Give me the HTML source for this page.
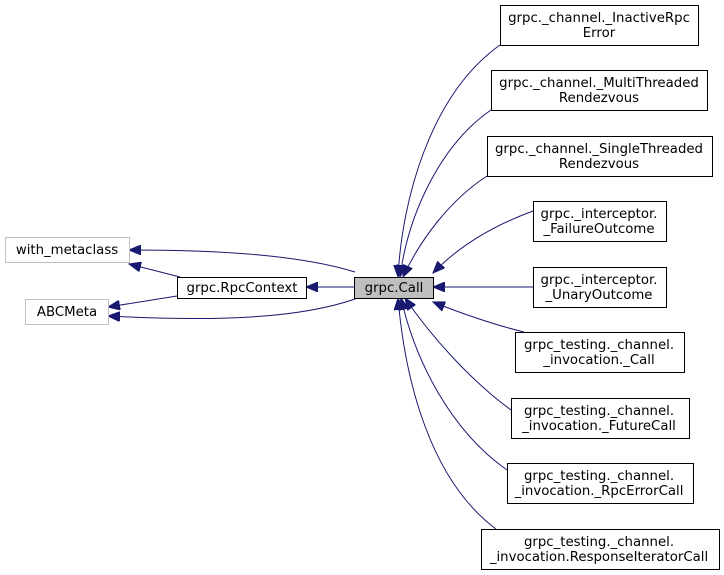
<!DOCTYPE html>
<html><head><meta charset="utf-8"><style>
body{margin:0;background:#fff}
svg{display:block}
text{font-family:"DejaVu Sans","Liberation Sans",sans-serif;font-size:13.3px;text-anchor:middle;fill:#000}
</style></head><body>
<svg width="724" height="575" viewBox="0 0 724 575" xmlns="http://www.w3.org/2000/svg">
<defs>
<marker id="a" markerUnits="userSpaceOnUse" markerWidth="13" markerHeight="10" refX="12" refY="5" orient="auto">
<path d="M0,0 L12,5 L0,10 z" fill="#191970" stroke="#191970"/>
</marker>
</defs>
<g fill="none" stroke="#191970" stroke-width="1" marker-end="url(#a)">
<path d="M500,45 C430,95 402,200 398,277"/>
<path d="M491,110 C440,145 408,215 400,277"/>
<path d="M487,176 C450,200 420,240 403,277"/>
<path d="M533,211 C495,225 460,245 433,273"/>
<path d="M533,287 L433,287"/>
<path d="M524,332 C495,325 460,313 433,302"/>
<path d="M511,410 C470,380 430,335 405,298"/>
<path d="M507,470 C450,430 415,360 401,298"/>
<path d="M496,529 C430,480 405,380 398,298"/>
<path d="M354,287 L306,287"/>
<path d="M355,272 C300,255 220,250 129,250"/>
<path d="M180,277 L129,264"/>
<path d="M177,296 L108,307"/>
<path d="M355,299 C300,318 220,322 108,316"/>
</g>
<g stroke-width="1">
<rect x="5.5" y="237.5" width="124" height="25" fill="#fff" stroke="#bfbfbf"/>
<text x="67" y="254">with_metaclass</text>
<rect x="25.5" y="299.5" width="83" height="25" fill="#fff" stroke="#bfbfbf"/>
<text x="67" y="316">ABCMeta</text>
<rect x="177.5" y="277.5" width="129" height="21" fill="#fff" stroke="#000"/>
<text x="242" y="292">grpc.RpcContext</text>
<rect x="354.5" y="277.5" width="79" height="21" fill="#bfbfbf" stroke="#000"/>
<text x="394" y="292">grpc.Call</text>
<g fill="#fff" stroke="#000">
<rect x="500.5" y="5.5" width="198" height="40"/>
<rect x="491.5" y="70.5" width="216" height="40"/>
<rect x="487.5" y="136.5" width="225" height="40"/>
<rect x="533.5" y="201.5" width="133" height="40"/>
<rect x="533.5" y="267.5" width="133" height="40"/>
<rect x="515.5" y="332.5" width="169" height="40"/>
<rect x="511.5" y="398.5" width="178" height="40"/>
<rect x="507.5" y="463.5" width="186" height="40"/>
<rect x="481.5" y="529.5" width="238" height="40"/>
</g>
<text x="599" y="22">grpc._channel._InactiveRpc</text><text x="599" y="37">Error</text>
<text x="599" y="87">grpc._channel._MultiThreaded</text><text x="599" y="102">Rendezvous</text>
<text x="599" y="153">grpc._channel._SingleThreaded</text><text x="599" y="168">Rendezvous</text>
<text x="599" y="218">grpc._interceptor.</text><text x="599" y="233">_FailureOutcome</text>
<text x="599" y="284">grpc._interceptor.</text><text x="599" y="299">_UnaryOutcome</text>
<text x="599" y="349">grpc_testing._channel.</text><text x="599" y="364">_invocation._Call</text>
<text x="599" y="415">grpc_testing._channel.</text><text x="599" y="430">_invocation._FutureCall</text>
<text x="599" y="480">grpc_testing._channel.</text><text x="599" y="495">_invocation._RpcErrorCall</text>
<text x="599" y="546">grpc_testing._channel.</text><text x="599" y="561">_invocation.ResponseIteratorCall</text>
</g>
</svg>
</body></html>
